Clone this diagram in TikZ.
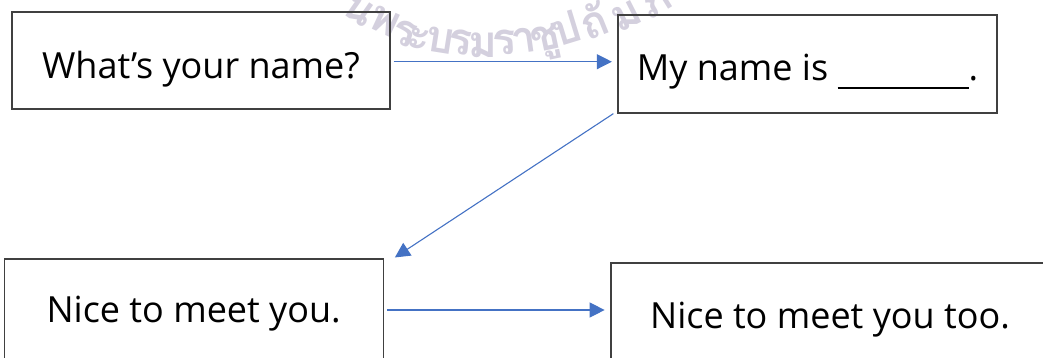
\documentclass[tikz,border=0pt]{standalone}
\usepackage{fontspec}
\setmainfont{Open Sans}
\newfontfamily\thaifont[Script=Thai]{Loma}
\usepackage{xcolor}
\usepackage{tikz}
\usetikzlibrary{positioning,arrows.meta,calc}
\definecolor{frame}{HTML}{404040}
\definecolor{flowc}{HTML}{4472C4}
\definecolor{stamp}{HTML}{D4D0DE}
\tikzset{
  card/.style ={draw=frame, line width=1.3pt, inner sep=0pt, font=\fontsize{36}{40}\selectfont},
  flow/.style ={draw=flowc, line width=1.1pt, -{Triangle[length=15pt,width=15pt]}},
  stampch/.style={text=stamp, anchor=base, inner sep=0pt, font=\thaifont\bfseries\fontsize{44}{48}\selectfont},
}
\begin{document}
\begin{tikzpicture}[x=1pt,y=-1pt]
\useasboundingbox (0,0) rectangle (1043,357);
\clip (0,0) rectangle (1043,357);

% faint stamp text along an arc
\foreach \px/\py/\rot/\ch [count=\k] in {352/20/-35/น,380/33/-25/พ,401/45/-18/ร,416/50/-14/ะ,438/53/-9/บ,459/55/-5/ร,
    483/57/0/ม,505/55/4/ร,526/53/8/า,548/50/12/ชู,571/43/17/ป,600/37/22/ถั,632/27/27/ม,663/13/32/ภ์}{
  \node[stampch, rotate=\rot] (wm\k) at (\px,\py) {\ch};
}

\node[card, minimum width=378pt, minimum height=97pt, text height=44pt, text depth=8.4pt] (ask) at (201,60.5) {What’s your name?};
\node[card, minimum width=379pt, minimum height=98pt, text height=40pt, text depth=8pt] (reply) at (807.5,64)
  {My name is \rule[-8.5pt]{131pt}{1.8pt}.};
\node[card, minimum width=379pt, minimum height=109pt] (greet) at (193.7,313.6) {Nice to meet you.};
\node[card, minimum width=438pt, minimum height=113pt] (greetback) at (830,319.6) {Nice to meet you too.};

\draw[flow, shorten <=3pt, shorten >=5.5pt] ([yshift=-1.2pt]ask.east) -- ([yshift=-1.2pt]ask.east -| reply.west);
\draw[flow] ([xshift=-4pt]reply.south west) -- ([xshift=11pt,yshift=1pt]greet.north east);
\draw[flow, shorten <=3pt, shorten >=5.7pt] ([yshift=3.6pt]greet.east) -- ([yshift=3.6pt]greet.east -| greetback.west);
\end{tikzpicture}
\end{document}
